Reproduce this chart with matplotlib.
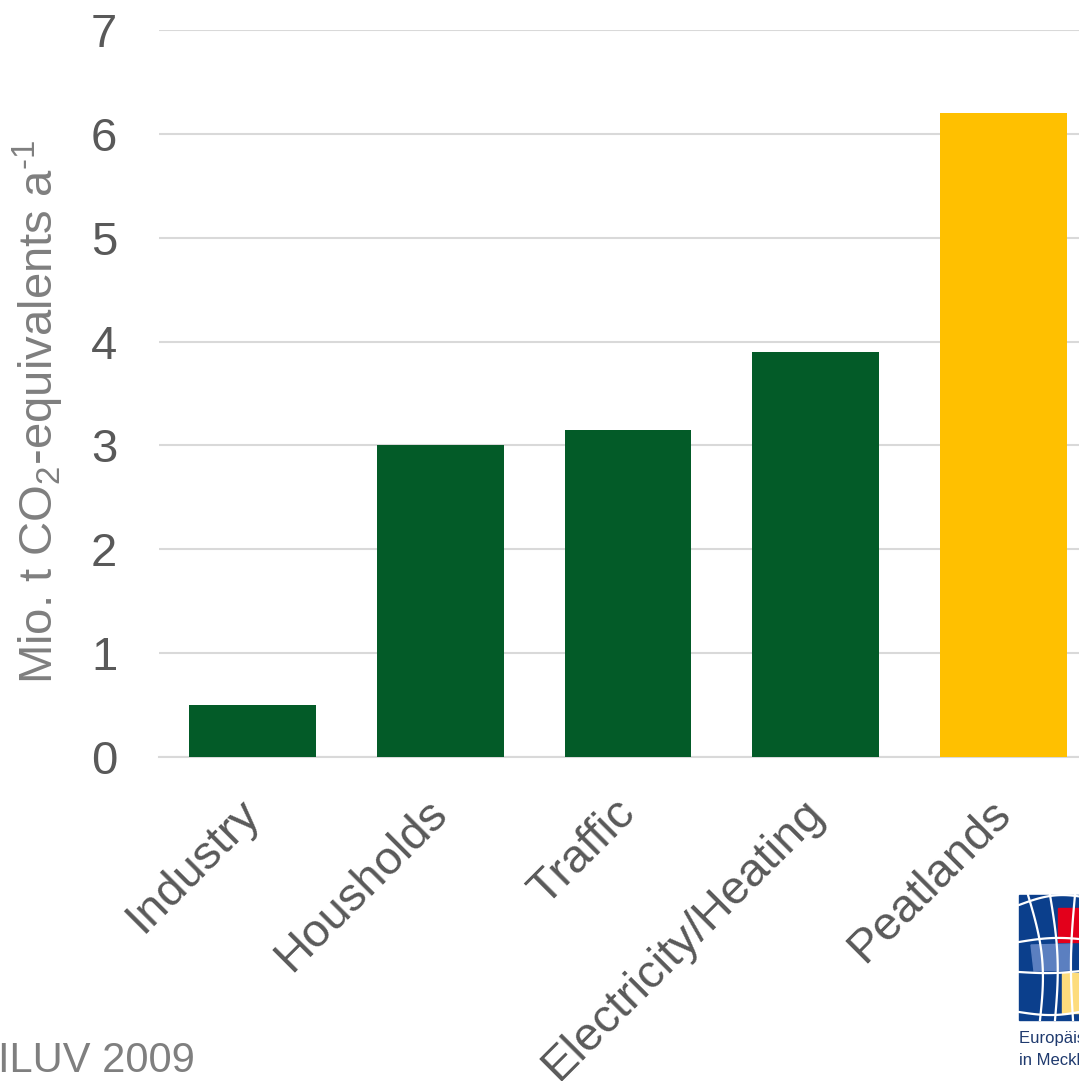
import numpy as np
import matplotlib

matplotlib.use('Agg')
import matplotlib.pyplot as plt
import matplotlib.transforms as mtransforms
from matplotlib.patches import Rectangle, Polygon

plt.rcParams['font.family'] = ['Liberation Sans', 'DejaVu Sans']
plt.rcParams['mathtext.fontset'] = 'custom'
plt.rcParams['mathtext.rm'] = 'Liberation Sans'
plt.rcParams['mathtext.it'] = 'Liberation Sans'

# data
categories = ['Industry', 'Housholds', 'Traffic', 'Electricity/Heating', 'Peatlands']
values = [0.5, 3.0, 3.15, 3.9, 6.2]
bar_colors = ['#035B28', '#035B28', '#035B28', '#035B28', '#FFC000']
yticks = [0, 1, 2, 3, 4, 5, 6, 7]

W, H = 1079, 1081
fig = plt.figure(figsize=(W / 100, H / 100), dpi=100)

# main axes (runs a bit past the right edge like the cropped slide)
left, right, bottom, top = 159, 1097, 757, 30
ax = fig.add_axes([left / W, 1 - bottom / H, (right - left) / W, (bottom - top) / H])
x = np.arange(len(categories))
ax.bar(x, values, width=0.675, color=bar_colors, zorder=3)
ax.set_xlim(-0.5, len(categories) - 0.5)
ax.set_ylim(0, 7)
ax.set_yticks(yticks)
ax.set_yticklabels([str(t) for t in yticks], fontsize=34, color='#595959')
ax.yaxis.grid(True, color='#d9d9d9', linewidth=1.5, zorder=0)
ax.tick_params(axis='both', length=0)
ax.tick_params(axis='y', pad=30)
for s in ['top', 'right', 'left']:
    ax.spines[s].set_visible(False)
ax.spines['bottom'].set_color('#d9d9d9')
ax.spines['bottom'].set_linewidth(1.5)

ax.set_xticks(x)
ax.set_xticklabels(categories, fontsize=34, color='#595959', rotation=45,
                   ha='right', va='top', rotation_mode='anchor')
ax.tick_params(axis='x', pad=14)
shift = mtransforms.ScaledTranslation(-0.15, -0.15, fig.dpi_scale_trans)
for lab in ax.get_xticklabels():
    lab.set_transform(lab.get_transform() + shift)
ax.set_facecolor('none')

# overlay in pixel coordinates for the axis title, source text and logo
ov = fig.add_axes([0, 0, 1, 1])
ov.set_xlim(0, W)
ov.set_ylim(H, 0)
ov.axis('off')
ov.set_zorder(-1)
ov.text(38, 412, r'Mio. t CO$_2$-equivalents a$^{\text{-1}}$', fontsize=34,
        color='#7f7f7f', rotation=90, ha='center', va='center')
ov.text(-2, 1072, 'ILUV 2009', fontsize=30, color='#7f7f7f', ha='left', va='baseline')

# EU logo (cut at the right edge)
ov.add_patch(Rectangle((1019, 895), 80, 125, color='#0b3f8c'))
ov.add_patch(Rectangle((1058, 908), 40, 34, color='#e3001b'))
ov.add_patch(Polygon([(1031, 945), (1072, 944), (1070, 970), (1034, 971)], color='#5b7fc0'))
ov.add_patch(Rectangle((1062, 973), 40, 40, color='#fddc7c'))
t = np.linspace(0, 1, 30)
for x0, x1, bend in [(1028, 1040, 8), (1050, 1055, 5), (1075, 1073, -3)]:
    ov.plot(x0 + (x1 - x0) * t + bend * np.sin(np.pi * t), 895 + 125 * t, color='white', lw=1.6)
for y0, y1, bend in [(905, 898, -6), (942, 940, -3), (972, 970, 2), (1012, 1010, 4)]:
    ov.plot(1019 + 70 * t, y0 + (y1 - y0) * t + bend * np.sin(np.pi * t), color='white', lw=1.6)
ov.text(1019, 1043, 'Europäische Union', fontsize=12, color='#1f3a6e', ha='left', va='baseline')
ov.text(1019, 1065, 'in Mecklenburg-Vorpommern', fontsize=12, color='#1f3a6e', ha='left', va='baseline')

plt.savefig('out.png', dpi=100)
